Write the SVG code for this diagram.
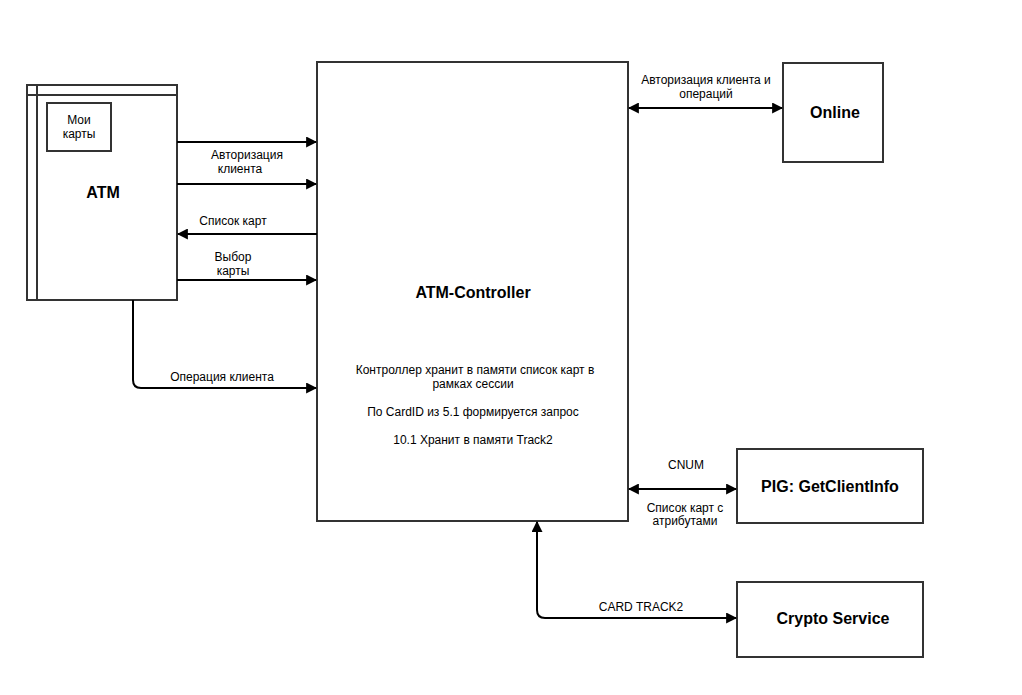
<svg xmlns="http://www.w3.org/2000/svg" width="1022" height="695" viewBox="0 0 1022 695">
<style>
.box{fill:#fff;stroke:#333;stroke-width:2}
.c{fill:none;stroke:#000;stroke-width:2}
.lbl{font-family:"Liberation Sans",Arial,sans-serif;font-size:12px;fill:#000;text-anchor:middle}
.ttl{font-family:"Liberation Sans",Arial,sans-serif;font-size:16px;font-weight:bold;fill:#000;text-anchor:middle}
</style>
<defs>
<marker id="ah" viewBox="0 0 10 10" refX="9" refY="5" markerWidth="5.5" markerHeight="5.5" orient="auto-start-reverse" markerUnits="strokeWidth">
<path d="M0,0 L10,5 L0,10 Z" fill="#000"/>
</marker>
</defs>
<rect width="1022" height="695" fill="#fff"/>
<g id="atm">
<rect class="box" x="27" y="85" width="150" height="215"/>
<line class="box" x1="37" y1="85" x2="37" y2="300"/>
<line class="box" x1="27" y1="95" x2="177" y2="95"/>
<text class="ttl" x="103" y="198">ATM</text>
</g>
<g id="my-cards">
<rect class="box" x="47" y="103" width="64" height="48"/>
<text class="lbl" x="79" y="124">Мои</text>
<text class="lbl" x="79" y="138">карты</text>
</g>
<g id="controller">
<rect class="box" x="317" y="62" width="311" height="459"/>
<text class="ttl" x="473" y="298">ATM-Controller</text>
<text class="lbl" x="475" y="374">Контроллер хранит в памяти список карт в</text>
<text class="lbl" x="473" y="388">рамках сессии</text>
<text class="lbl" x="473" y="416">По CardID из 5.1 формируется запрос</text>
<text class="lbl" x="473" y="444">10.1 Хранит в памяти Track2</text>
</g>
<g id="online">
<rect class="box" x="783" y="63" width="100" height="99"/>
<text class="ttl" x="835" y="118">Online</text>
</g>
<g id="pig">
<rect class="box" x="737" y="449" width="186" height="74"/>
<text class="ttl" x="830" y="492">PIG: GetClientInfo</text>
</g>
<g id="crypto">
<rect class="box" x="737" y="582" width="186" height="75"/>
<text class="ttl" x="833" y="624">Crypto Service</text>
</g>
<g id="connectors">
<line class="c" x1="177" y1="142" x2="316" y2="142" marker-end="url(#ah)"/>
<line class="c" x1="177" y1="184" x2="316" y2="184" marker-end="url(#ah)"/>
<line class="c" x1="317" y1="234" x2="178" y2="234" marker-end="url(#ah)"/>
<line class="c" x1="177" y1="280" x2="316" y2="280" marker-end="url(#ah)"/>
<path class="c" d="M133,300 V380 Q133,388 141,388 H316" marker-end="url(#ah)"/>
<line class="c" x1="629" y1="108" x2="782" y2="108" marker-start="url(#ah)" marker-end="url(#ah)"/>
<line class="c" x1="629" y1="489" x2="736" y2="489" marker-start="url(#ah)" marker-end="url(#ah)"/>
<path class="c" d="M537,522 V610 Q537,618 545,618 H736" marker-start="url(#ah)" marker-end="url(#ah)"/>
<text class="lbl" x="247" y="159">Авторизация</text>
<text class="lbl" x="240" y="173">клиента</text>
<text class="lbl" x="233" y="225">Список карт</text>
<text class="lbl" x="233" y="261">Выбор</text>
<text class="lbl" x="233" y="275">карты</text>
<text class="lbl" x="222" y="381">Операция клиента</text>
<text class="lbl" x="706" y="84">Авторизация клиента и</text>
<text class="lbl" x="706" y="98">операций</text>
<text class="lbl" x="686" y="469">CNUM</text>
<text class="lbl" x="685" y="512">Список карт с</text>
<text class="lbl" x="685" y="525">атрибутами</text>
<text class="lbl" x="641" y="611">CARD TRACK2</text>
</g>
</svg>
